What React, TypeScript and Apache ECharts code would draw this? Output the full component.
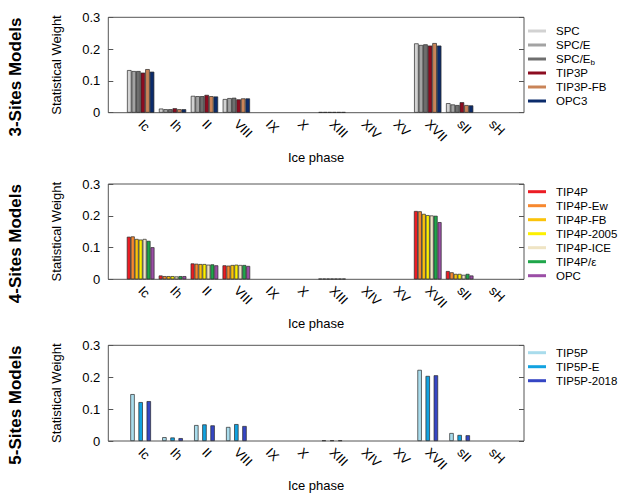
import React, { useEffect, useRef } from "react";
import * as echarts from "echarts";

const categories = ["Ic", "Ih", "II", "VIII", "IX", "X", "XIII", "XIV", "XV", "XVII", "sII", "sH"];
const yTicks = [0, 0.1, 0.2, 0.3];
const panelTitles = ["3-Sites Models", "4-Sites Models", "5-Sites Models"];
const yTitle = "Statistical Weight";
const xTitle = "Ice phase";

// 3-site models
const names3 = ["SPC", "SPC/E", "SPC/Eb", "TIP3P", "TIP3P-FB", "OPC3"];
const colors3 = ["#d2d2d2", "#a3a3a3", "#6e6e6e", "#8c0c20", "#c98458", "#0b2b6b"];
const spc = [0.134, 0.013, 0.053, 0.043, 0, 0, 0.002, 0, 0, 0.218, 0.030, 0];
const spcE = [0.131, 0.011, 0.052, 0.046, 0, 0, 0.002, 0, 0, 0.213, 0.026, 0];
const spcEb = [0.131, 0.011, 0.052, 0.047, 0, 0, 0.002, 0, 0, 0.215, 0.024, 0];
const tip3p = [0.126, 0.014, 0.056, 0.042, 0, 0, 0.002, 0, 0, 0.211, 0.033, 0];
const tip3pFb = [0.137, 0.011, 0.052, 0.045, 0, 0, 0.002, 0, 0, 0.219, 0.024, 0];
const opc3 = [0.129, 0.011, 0.051, 0.045, 0, 0, 0.002, 0, 0, 0.211, 0.023, 0];

// 4-site models
const names4 = ["TIP4P", "TIP4P-Ew", "TIP4P-FB", "TIP4P-2005", "TIP4P-ICE", "TIP4P/ε", "OPC"];
const colors4 = ["#ec1c24", "#f7882f", "#fbc30a", "#fdf000", "#efe4c4", "#1fa64a", "#9b4ea6"];
const tip4p = [0.134, 0.012, 0.050, 0.044, 0, 0, 0.002, 0, 0, 0.215, 0.026, 0];
const tip4pEw = [0.135, 0.010, 0.049, 0.043, 0, 0, 0.002, 0, 0, 0.214, 0.022, 0];
const tip4pFb = [0.127, 0.010, 0.048, 0.045, 0, 0, 0.002, 0, 0, 0.206, 0.017, 0];
const tip4p2005 = [0.125, 0.010, 0.048, 0.046, 0, 0, 0.002, 0, 0, 0.202, 0.017, 0];
const tip4pIce = [0.127, 0.009, 0.046, 0.045, 0, 0, 0.002, 0, 0, 0.201, 0.014, 0];
const tip4pEps = [0.121, 0.010, 0.047, 0.045, 0, 0, 0.002, 0, 0, 0.200, 0.017, 0];
const opc = [0.101, 0.010, 0.044, 0.042, 0, 0, 0.002, 0, 0, 0.180, 0.012, 0];

// 5-site models
const names5 = ["TIP5P", "TIP5P-E", "TIP5P-2018"];
const colors5 = ["#a9dcec", "#12a2e0", "#3546c4"];
const tip5p = [0.147, 0.012, 0.050, 0.044, 0, 0, 0.002, 0, 0, 0.223, 0.025, 0];
const tip5pE = [0.122, 0.011, 0.052, 0.053, 0, 0, 0.002, 0, 0, 0.204, 0.019, 0];
const tip5p2018 = [0.125, 0.009, 0.049, 0.047, 0, 0, 0.002, 0, 0, 0.206, 0.018, 0];

const FONT = "Arial, Liberation Sans, Helvetica, sans-serif";

const panels = [
  { names: names3, colors: colors3, values: [spc, spcE, spcEb, tip3p, tip3pFb, opc3], top: 17.3, bottom: 112.7, barWidth: 4.55, barGap: "0%", legendTop: 24 },
  { names: names4, colors: colors4, values: [tip4p, tip4pEw, tip4pFb, tip4p2005, tip4pIce, tip4pEps, opc], top: 184, bottom: 279.3, barWidth: 3.95, barGap: "0%", legendTop: 184.7 },
  { names: names5, colors: colors5, values: [tip5p, tip5pE, tip5p2018], top: 345.3, bottom: 441, barWidth: 4.4, barGap: "85%", legendTop: 345.7 },
];

const BOX_LEFT = 108.3;
const BOX_WIDTH = 415.7;
const BAR_LEFT = 124.7;
const BAR_WIDTH = 382.8;
const AXIS_COLOR = "#555";

function buildOption() {
  const grid: any[] = [];
  const xAxis: any[] = [];
  const yAxis: any[] = [];
  const series: any[] = [];
  const legend: any[] = [];
  const graphic: any[] = [];

  panels.forEach((p, i) => {
    const h = p.bottom - p.top;
    grid.push({ left: BOX_LEFT, top: p.top, width: BOX_WIDTH, height: h, show: true, borderColor: AXIS_COLOR, borderWidth: 1, backgroundColor: "transparent" });
    grid.push({ left: BAR_LEFT, top: p.top, width: BAR_WIDTH, height: h });
    const gBox = 2 * i;
    const gBar = 2 * i + 1;
    xAxis.push({ gridIndex: gBox, type: "value", min: 0, max: 1, show: false });
    xAxis.push({
      gridIndex: gBar,
      type: "category",
      data: categories,
      axisLine: { show: false },
      axisTick: { show: false },
      axisLabel: { rotate: -45, fontSize: 13, color: "#000", fontFamily: FONT, margin: 9, interval: 0 },
      name: xTitle,
      nameLocation: "middle",
      nameGap: 38,
      nameTextStyle: { fontSize: 13, color: "#000", fontFamily: FONT },
    });
    yAxis.push({
      gridIndex: gBox,
      type: "value",
      min: yTicks[0],
      max: yTicks[yTicks.length - 1],
      interval: 0.1,
      position: "left",
      axisLine: { show: false },
      axisTick: { show: true, inside: true, length: 5, lineStyle: { color: AXIS_COLOR } },
      splitLine: { show: false },
      axisLabel: { fontSize: 13, color: "#000", fontFamily: FONT, margin: 8 },
      name: yTitle,
      nameLocation: "middle",
      nameRotate: 90,
      nameGap: 45,
      nameTextStyle: { fontSize: 13, color: "#000", fontFamily: FONT },
    });
    yAxis.push({
      gridIndex: gBox,
      type: "value",
      min: yTicks[0],
      max: yTicks[yTicks.length - 1],
      interval: 0.1,
      position: "right",
      axisLine: { show: false },
      axisTick: { show: true, inside: true, length: 5, lineStyle: { color: AXIS_COLOR } },
      splitLine: { show: false },
      axisLabel: { show: false },
    });
    yAxis.push({ gridIndex: gBar, type: "value", min: 0, max: 0.3, show: false });
    const xIdx = 2 * i + 1;
    const yIdx = 3 * i + 2;
    p.names.forEach((n, k) => {
      series.push({
        type: "bar",
        name: n,
        xAxisIndex: xIdx,
        yAxisIndex: yIdx,
        data: p.values[k].map((v) => (v === 0 ? null : v)),
        barWidth: p.barWidth,
        barGap: p.barGap,
        itemStyle: { color: p.colors[k], borderColor: "#2a2a2a", borderWidth: 0.7 },
        emphasis: { disabled: true },
      });
    });
    legend.push({
      data: p.names,
      orient: "vertical",
      left: 528,
      top: p.legendTop,
      padding: 0,
      itemGap: 0,
      itemWidth: 18,
      itemHeight: 3,
      icon: "rect",
      itemStyle: { borderWidth: 0 },
      selectedMode: false,
      formatter: (name: string) => (name === "SPC/Eb" ? "{n|SPC/E}{s|b}" : name),
      textStyle: {
        fontSize: 11.5,
        color: "#000",
        fontFamily: FONT,
        lineHeight: 14,
        padding: [0, 0, 0, 5],
        rich: {
          n: { fontSize: 11.5, fontFamily: FONT, color: "#000", lineHeight: 14 },
          s: { fontSize: 8, fontFamily: FONT, color: "#000", verticalAlign: "bottom", lineHeight: 14, padding: [6, 0, 0, 0] },
        },
      },
    });
    graphic.push({
      type: "text",
      x: 15,
      y: (p.top + p.bottom) / 2 + 12,
      rotation: Math.PI / 2,
      style: { text: panelTitles[i], fontSize: 17, fontWeight: "bold", fontFamily: FONT, fill: "#000", align: "center", verticalAlign: "middle" },
    });
  });

  return { animation: false, backgroundColor: "#fff", grid, xAxis, yAxis, series, legend, graphic };
}

export default function App() {
  const ref = useRef<HTMLDivElement>(null);
  useEffect(() => {
    if (!ref.current) return;
    const chart = echarts.init(ref.current, undefined, { renderer: "svg" });
    chart.setOption(buildOption());
    return () => chart.dispose();
  }, []);
  return <div ref={ref} style={{ position: "fixed", left: 0, top: 0, width: 623, height: 497, background: "#fff" }} />;
}
